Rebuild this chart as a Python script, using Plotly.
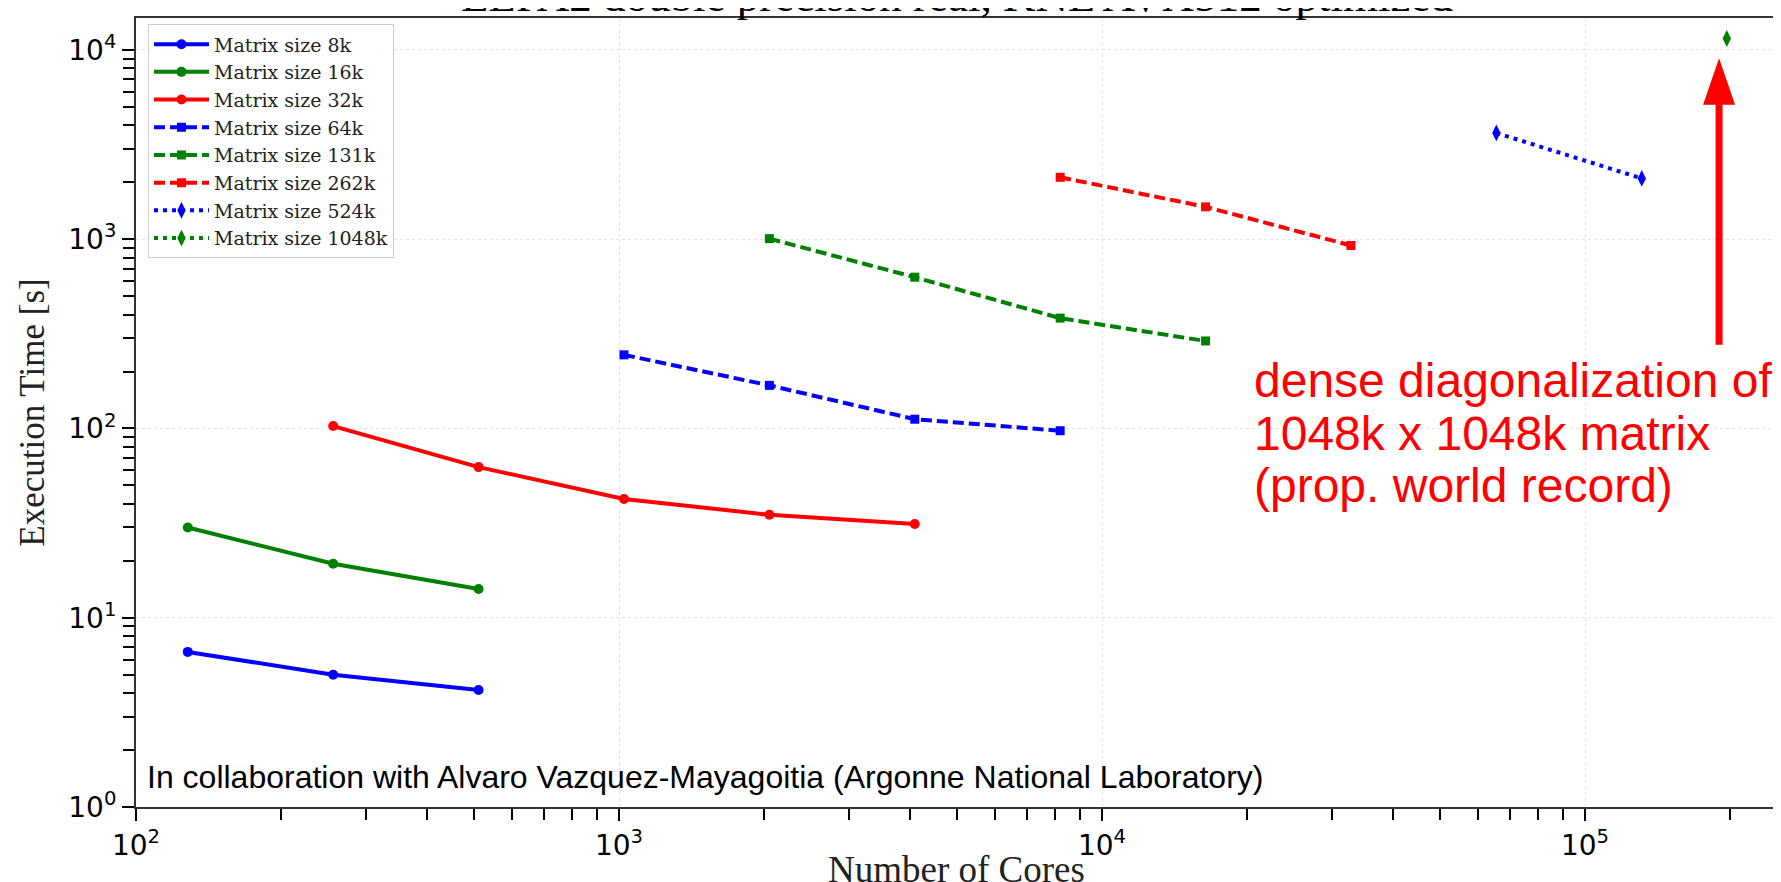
import plotly.graph_objects as go

# ---------------- data ----------------
cores_8k = [128, 256, 512]
time_8k = [6.6, 5.0, 4.15]
cores_16k = [128, 256, 512]
time_16k = [30.0, 19.3, 14.2]
cores_32k = [256, 512, 1024, 2048, 4096]
time_32k = [103, 62.5, 42.4, 35.0, 31.3]
cores_64k = [1024, 2048, 4096, 8192]
time_64k = [245, 169, 112, 97.3]
cores_131k = [2048, 4096, 8192, 16384]
time_131k = [1007, 630, 383, 290]
cores_262k = [8192, 16384, 32768]
time_262k = [2125, 1483, 927]
cores_524k = [65536, 131072]
time_524k = [3646, 2095]
cores_1048k = [196608]
time_1048k = [11500]

series_names = ["Matrix size 8k", "Matrix size 16k", "Matrix size 32k", "Matrix size 64k",
                "Matrix size 131k", "Matrix size 262k", "Matrix size 524k", "Matrix size 1048k"]

x_tickvals = [100, 1000, 10000, 100000]
x_ticktext = ["10<sup>2</sup>", "10<sup>3</sup>", "10<sup>4</sup>", "10<sup>5</sup>"]
y_tickvals = [1, 10, 100, 1000, 10000]
y_ticktext = ["10<sup>0</sup>", "10<sup>1</sup>", "10<sup>2</sup>", "10<sup>3</sup>", "10<sup>4</sup>"]

title_text = "ELPA2 double precision real, KNL AVX512 optimized"
note_text = "In collaboration with Alvaro Vazquez-Mayagoitia (Argonne National Laboratory)"
record_lines = ["dense diagonalization of", "1048k x 1048k matrix", "(prop. world record)"]

# ---------------- styles ----------------
BLUE, GREEN, RED = "#0000ff", "#008000", "#ff0000"
series = [
    (cores_8k, time_8k, BLUE, "solid", "circle", 10),
    (cores_16k, time_16k, GREEN, "solid", "circle", 10),
    (cores_32k, time_32k, RED, "solid", "circle", 10),
    (cores_64k, time_64k, BLUE, "11px,5px", "square", 9),
    (cores_131k, time_131k, GREEN, "11px,5px", "square", 9),
    (cores_262k, time_262k, RED, "11px,5px", "square", 9),
    (cores_524k, time_524k, BLUE, "4px,5px", "diamond-tall", 12),
    (cores_1048k, time_1048k, GREEN, "4px,5px", "diamond-tall", 12),
]

fig = go.Figure()
for name, (xs, ys, col, dash, sym, msz) in zip(series_names, series):
    fig.add_trace(go.Scatter(
        x=xs, y=ys, name=name, mode="lines+markers",
        line=dict(color=col, width=4, dash=dash),
        marker=dict(color=col, symbol=sym, size=msz, line=dict(width=0)),
    ))

W, H = 1781, 882
ML, MR, MT, MB = 128, 12, 10, 83

axis_common = dict(
    type="log", showline=True, mirror=True, linecolor="#333333", linewidth=2,
    ticks="outside", ticklen=12, tickwidth=2, tickcolor="black",
    showgrid=True, gridcolor="#e3e3e3", gridwidth=1, griddash="dot",
    zeroline=False, tickmode="array",
    tickfont=dict(family="DejaVu Sans", size=28, color="black"),
    minor=dict(ticks="outside", ticklen=11, tickwidth=2, tickcolor="black",
               showgrid=False, dtick="D1"),
)

fig.update_xaxes(**axis_common, range=[2, 5.3975], tickvals=x_tickvals, ticktext=x_ticktext,
                 title=dict(text="Number of Cores",
                            font=dict(family="Liberation Serif", size=37, color="#222"),
                            standoff=5))
fig.update_yaxes(**axis_common, range=[0, 4.169], tickvals=y_tickvals, ticktext=y_ticktext,
                 title=dict(text="Execution Time [s]",
                            font=dict(family="Liberation Serif", size=35, color="#222"),
                            standoff=13))

annotations = [
    dict(text=title_text, xref="paper", yref="paper", x=0.5, y=1.0, xanchor="center",
         yanchor="bottom", yshift=-5, showarrow=False,
         font=dict(family="Liberation Serif", size=45, color="black")),
    dict(text=note_text, xref="paper", yref="paper", x=0.0055, y=0.038, xanchor="left",
         yanchor="middle", showarrow=False,
         font=dict(family="Liberation Sans", size=32, color="black")),
]
for i, line in enumerate(record_lines):
    annotations.append(dict(
        text=line, xref="paper", yref="paper", x=0.680, y=0.540 - i * 0.066,
        xanchor="left", yanchor="middle", showarrow=False,
        font=dict(family="Liberation Sans", size=48, color=RED)))

# arrow pointing to the 1048k record
ax_x = 0.9647
shapes = [
    dict(type="line", xref="paper", yref="paper", x0=ax_x, x1=ax_x, y0=0.586, y1=0.892,
         line=dict(color=RED, width=7)),
    dict(type="path", xref="paper", yref="paper",
         path=f"M {ax_x-0.00975},0.890 L {ax_x+0.00975},0.890 L {ax_x},0.949 Z",
         fillcolor=RED, line=dict(color=RED, width=0)),
]

fig.update_layout(
    width=W, height=H,
    margin=dict(l=ML, r=MR, t=MT, b=MB, autoexpand=False),
    paper_bgcolor="white", plot_bgcolor="white",
    annotations=annotations, shapes=shapes,
    legend=dict(x=0.0073, y=0.992, xanchor="left", yanchor="top",
                bgcolor="rgba(255,255,255,0.85)", bordercolor="#cccccc", borderwidth=1,
                font=dict(family="DejaVu Serif", size=19, color="#222"),
                tracegroupgap=0, itemwidth=55, entrywidth=215, entrywidthmode="pixels"),
    showlegend=True,
)

fig.write_html("out.html")
